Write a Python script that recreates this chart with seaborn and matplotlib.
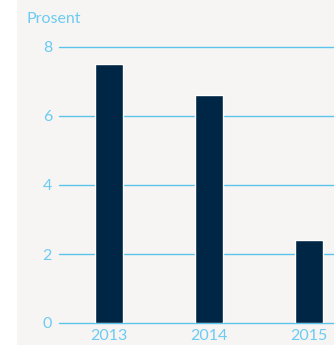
import matplotlib
matplotlib.use("Agg")
import matplotlib.pyplot as plt
import seaborn as sns
import pandas as pd
from matplotlib.patches import Rectangle

years = ["2013", "2014", "2015"]
values = [7.5, 6.6, 2.4]
y_ticks = [0, 2, 4, 6, 8]

bar_color = "#002645"
line_color = "#5bc3ec"
text_color = "#6ccbf2"
panel_color = "#f6f5f3"

sns.set_theme(style="white")
plt.rcParams["font.family"] = ["Lato", "DejaVu Sans"]

fig = plt.figure(figsize=(3.34, 3.45), dpi=100)
fig.patch.set_facecolor("white")
fig.patches.append(Rectangle((17 / 334, 0), 1, 1, transform=fig.transFigure,
                             facecolor=panel_color, edgecolor="none", zorder=-10))

ax = fig.add_axes([59 / 334, 22 / 345, 1 - 59 / 334, (323 - 47) / 345])
ax.set_facecolor("none")

df = pd.DataFrame({"year": years, "value": values})
sns.barplot(data=df, x="year", y="value", color=bar_color, width=0.28,
            saturation=1, ax=ax, zorder=3)

ax.set_xlim(-0.5, 2.25)
ax.set_ylim(0, 8)
ax.set_yticks(y_ticks)
ax.yaxis.grid(True, color=line_color, linewidth=1.0)
ax.xaxis.grid(False)
ax.set_axisbelow(True)
for gl in ax.yaxis.get_gridlines():
    gl.set_clip_on(False)
for s in ax.spines.values():
    s.set_visible(False)
ax.set_xlabel("")
ax.set_ylabel("")
ax.tick_params(axis="both", length=0, labelsize=11.5, labelcolor=text_color)
ax.tick_params(axis="y", pad=5)
ax.tick_params(axis="x", pad=4)
for lbl in ax.get_xticklabels() + ax.get_yticklabels():
    lbl.set_fontweight("normal")

fig.text(27 / 334, 1 - 19 / 345, "Prosent", color=text_color, fontsize=11.5,
         fontweight="normal", va="center", ha="left")

fig.savefig("out.png", dpi=100)
